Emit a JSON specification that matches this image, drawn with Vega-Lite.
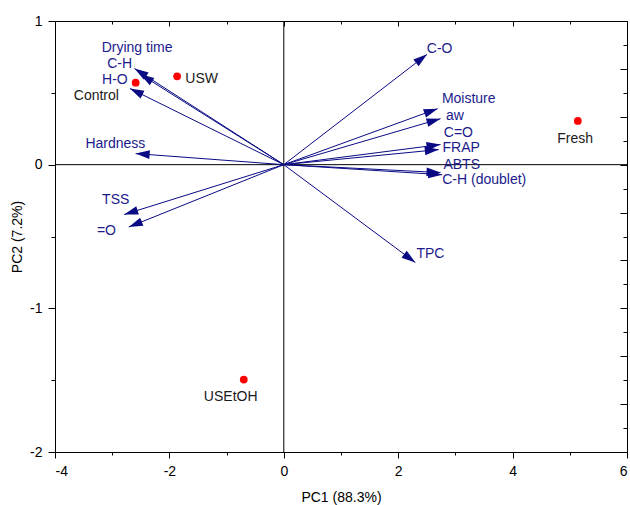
{
  "$schema": "https://vega.github.io/schema/vega-lite/v6.json",
  "width": 572,
  "height": 431,
  "autosize": {"type": "none"},
  "padding": {"left": 55, "top": 21, "right": 3, "bottom": 53},
  "background": "white",
  "config": {
    "view": {"stroke": null},
    "font": "Liberation Sans",
    "axis": {
      "grid": false,
      "domainColor": "#000000",
      "tickColor": "#000000",
      "labelColor": "#000000",
      "titleColor": "#000000",
      "labelFont": "Liberation Sans",
      "titleFont": "Liberation Sans",
      "labelFontSize": 14,
      "titleFontSize": 14,
      "titleFontWeight": "normal",
      "domainWidth": 1,
      "tickWidth": 1
    }
  },
  "datasets": {
    "samples": [
      {"name": "Control", "x": -2.59, "y": 0.571, "lx": -3.277, "ly": 0.476},
      {"name": "USW", "x": -1.865, "y": 0.615, "lx": -1.437, "ly": 0.599},
      {"name": "Fresh", "x": 5.14, "y": 0.304, "lx": 5.093, "ly": 0.182},
      {"name": "USEtOH", "x": -0.70, "y": -1.496, "lx": -0.928, "ly": -1.617}
    ],
    "loadings": [
      {"name": "Drying time", "x": -2.51, "y": 0.63, "lx": -2.565, "ly": 0.812},
      {"name": "C-H", "x": -2.61, "y": 0.669, "lx": -2.871, "ly": 0.704},
      {"name": "H-O", "x": -2.69, "y": 0.53, "lx": -2.953, "ly": 0.587},
      {"name": "Hardness", "x": -2.59, "y": 0.077, "lx": -2.944, "ly": 0.147},
      {"name": "TSS", "x": -2.79, "y": -0.347, "lx": -2.939, "ly": -0.248},
      {"name": "=O", "x": -2.71, "y": -0.434, "lx": -3.101, "ly": -0.461},
      {"name": "C-O", "x": 2.505, "y": 0.768, "lx": 2.724, "ly": 0.803},
      {"name": "Moisture", "x": 2.69, "y": 0.39, "lx": 3.233, "ly": 0.455},
      {"name": "aw", "x": 2.74, "y": 0.32, "lx": 2.991, "ly": 0.339},
      {"name": "C=O", "x": 2.74, "y": 0.14, "lx": 3.052, "ly": 0.219},
      {"name": "FRAP", "x": 2.71, "y": 0.105, "lx": 3.102, "ly": 0.116},
      {"name": "ABTS", "x": 2.74, "y": -0.055, "lx": 3.11, "ly": -0.004},
      {"name": "C-H (doublet)", "x": 2.77, "y": -0.07, "lx": 3.504, "ly": -0.104},
      {"name": "TPC", "x": 2.30, "y": -0.681, "lx": 2.563, "ly": -0.619}
    ]
  },
  "resolve": {"axis": {"x": "independent", "y": "independent"}},
  "layer": [
    {
      "data": {"values": [{"v": 0}]},
      "mark": {"type": "rule", "color": "#000000", "strokeWidth": 1},
      "encoding": {
        "y": {"field": "v", "type": "quantitative", "scale": {"domain": [-2, 1], "nice": false, "zero": false}, "axis": null}
      }
    },
    {
      "data": {"values": [{"v": 0}]},
      "mark": {"type": "rule", "color": "#000000", "strokeWidth": 1},
      "encoding": {
        "x": {"field": "v", "type": "quantitative", "scale": {"domain": [-4, 6], "nice": false, "zero": false}, "axis": null}
      }
    },
    {
      "data": {"name": "loadings"},
      "mark": {"type": "rule", "color": "#0a0a85", "strokeWidth": 1},
      "encoding": {
        "x": {"field": "x", "type": "quantitative", "scale": {"domain": [-4, 6], "nice": false, "zero": false},
          "axis": {"orient": "top", "values": [-4, -2, 0, 2, 4, 6], "tickSize": -5, "labels": false, "title": null, "domain": true}},
        "y": {"field": "y", "type": "quantitative", "scale": {"domain": [-2, 1], "nice": false, "zero": false},
          "axis": {"orient": "right", "values": [-2, -1.66667, -1.33333, -1, -0.66667, -0.33333, 0, 0.33333, 0.66667, 1], "tickSize": -7, "labels": false, "title": null, "domain": true}},
        "x2": {"datum": 0},
        "y2": {"datum": 0}
      }
    },
    {
      "data": {"name": "loadings"},
      "transform": [{"calculate": "atan2(datum.x*57.2, datum.y*143.7)*180/PI", "as": "ang"}],
      "mark": {"type": "point", "shape": "M0,0 L-0.62,2 L0.62,2 Z", "filled": true, "color": "#0a0a85", "size": 196, "opacity": 1, "strokeWidth": 0},
      "encoding": {
        "x": {"field": "x", "type": "quantitative", "scale": {"domain": [-4, 6], "nice": false, "zero": false},
          "axis": {"orient": "top", "values": [-3, -1, 1, 3, 5], "tickSize": -3, "labels": false, "title": null, "domain": false}},
        "y": {"field": "y", "type": "quantitative", "scale": {"domain": [-2, 1], "nice": false, "zero": false},
          "axis": {"orient": "right", "values": [-1.83333, -1.5, -1.16667, -0.83333, -0.5, -0.16667, 0.16667, 0.5, 0.83333], "tickSize": -4, "labels": false, "title": null, "domain": false}},
        "angle": {"field": "ang", "type": "quantitative", "scale": null}
      }
    },
    {
      "data": {"name": "loadings"},
      "mark": {"type": "text", "font": "Liberation Sans", "fontSize": 14, "color": "#1b1b8c", "align": "center", "baseline": "middle"},
      "encoding": {
        "x": {"field": "lx", "type": "quantitative", "scale": {"domain": [-4, 6], "nice": false, "zero": false}, "axis": null},
        "y": {"field": "ly", "type": "quantitative", "scale": {"domain": [-2, 1], "nice": false, "zero": false}, "axis": null},
        "text": {"field": "name"}
      }
    },
    {
      "data": {"name": "samples"},
      "mark": {"type": "point", "shape": "circle", "filled": true, "color": "#ff0000", "size": 60, "opacity": 1},
      "encoding": {
        "x": {"field": "x", "type": "quantitative", "scale": {"domain": [-4, 6], "nice": false, "zero": false},
          "axis": {"orient": "bottom", "values": [-4, -2, 0, 2, 4, 6], "tickSize": 6, "labelPadding": 6, "labelExpr": "datum.value", "title": "PC1 (88.3%)", "titleY": 45, "titleBaseline": "middle"}},
        "y": {"field": "y", "type": "quantitative", "scale": {"domain": [-2, 1], "nice": false, "zero": false},
          "axis": {"orient": "left", "values": [-2, -1, 0, 1], "tickSize": 7, "labelPadding": 6, "labelExpr": "datum.value", "title": "PC2 (7.2%)", "titleX": -38, "titleY": 215.5, "titleAngle": -90, "titleBaseline": "middle", "titleAlign": "center"}}
      }
    },
    {
      "data": {"name": "samples"},
      "mark": {"type": "text", "font": "Liberation Sans", "fontSize": 14, "color": "#1a1a1a", "align": "center", "baseline": "middle"},
      "encoding": {
        "x": {"field": "lx", "type": "quantitative", "scale": {"domain": [-4, 6], "nice": false, "zero": false},
          "axis": {"orient": "bottom", "values": [-3, -1, 1, 3, 5], "tickSize": 3, "labels": false, "title": null, "domain": false}},
        "y": {"field": "ly", "type": "quantitative", "scale": {"domain": [-2, 1], "nice": false, "zero": false},
          "axis": {"orient": "left", "values": [-1.5, -0.5, 0.5], "tickSize": 4, "labels": false, "title": null, "domain": false}},
        "text": {"field": "name"}
      }
    }
  ]
}
